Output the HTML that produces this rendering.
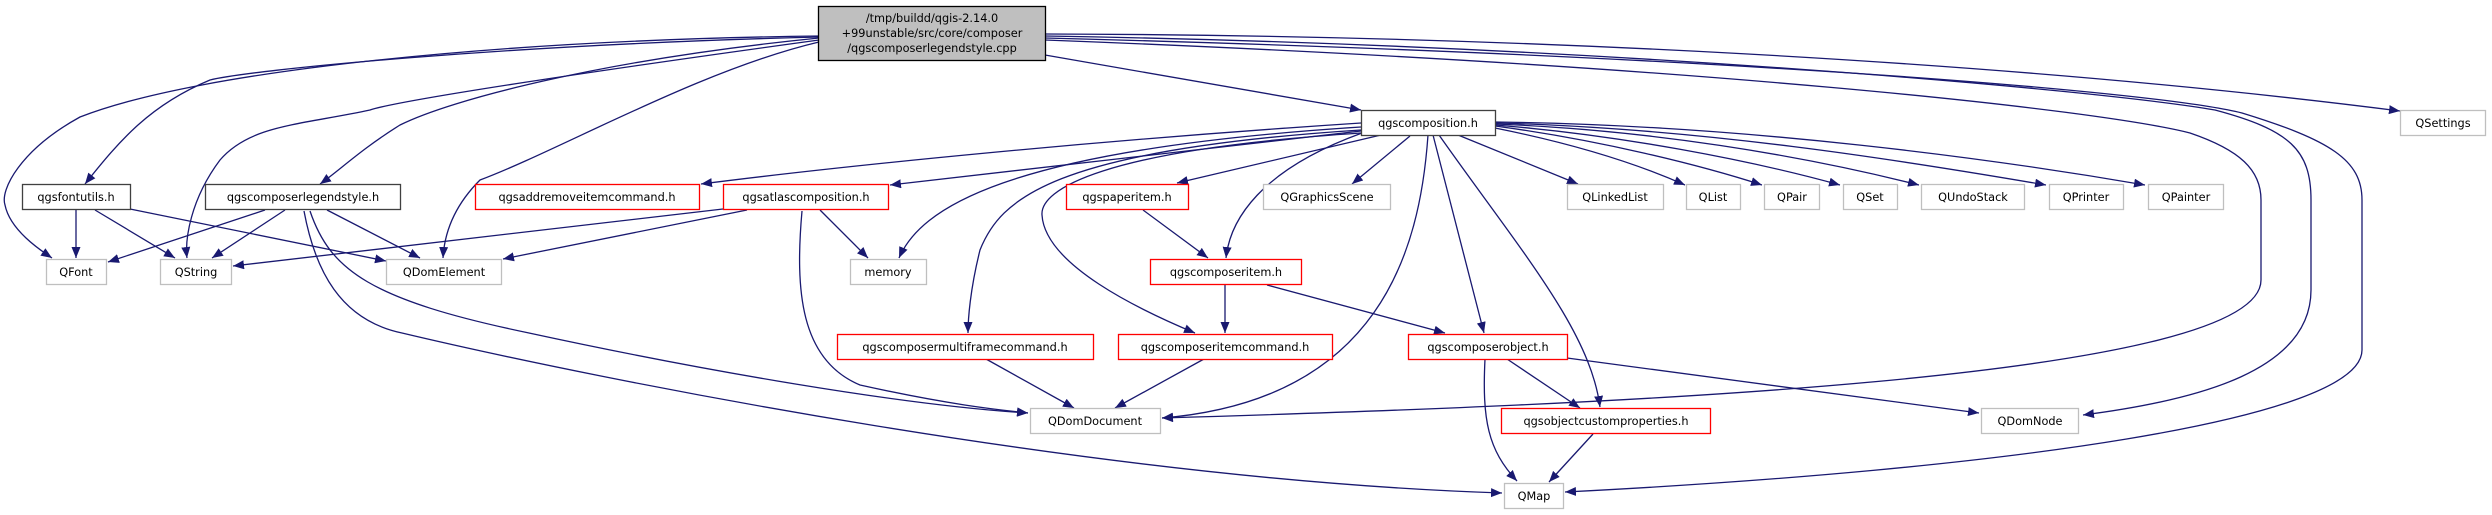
<!DOCTYPE html>
<html><head><meta charset="utf-8"><style>
html,body{margin:0;padding:0;background:#fff;}
svg{display:block;}
text{font-family:"DejaVu Sans","Liberation Sans",sans-serif;font-size:11.3px;fill:#000;}
.e{fill:none;stroke:#191970;stroke-width:1.3;marker-end:url(#a);}
.k{fill:#fff;stroke:#404040;stroke-width:1.3;}
.r{fill:#fff;stroke:#ff0000;stroke-width:1.3;}
.g{fill:#fff;stroke:#bfbfbf;stroke-width:1.3;}
</style></head><body>
<svg width="2492" height="515" viewBox="0 0 2492 515" xmlns="http://www.w3.org/2000/svg">
<defs><marker id="a" markerUnits="userSpaceOnUse" markerWidth="12" markerHeight="10" refX="11" refY="4.5" orient="auto"><path d="M0,0 L11,4.5 L0,9 z" fill="#191970"/></marker></defs>
<g>
<path class="e" d="M819,36 C500,40 200,70 80,117 C20,150 0,190 5,205 C10,230 40,250 52,258"/>
<path class="e" d="M819,37 C500,45 250,70 210,80 C150,105 120,140 85,184"/>
<path class="e" d="M819,40 C600,70 400,100 370,110 C300,125 250,125 220,160 C190,200 185,240 187,258"/>
<path class="e" d="M819,38 C600,60 450,100 400,125 C360,150 340,170 320,184"/>
<path class="e" d="M819,42 C700,70 560,150 480,180 C450,210 444,240 443,258"/>
<path class="e" d="M1045,55 L1361,110"/>
<path class="e" d="M1045,34 C1500,35 2000,60 2400,111"/>
<path class="e" d="M1045,36 C1600,45 2100,90 2215,110 C2290,130 2311,150 2311,200 L2311,290 C2311,370 2200,400 2083,415"/>
<path class="e" d="M1045,38 C1700,55 2150,90 2242,113 C2330,140 2362,160 2362,200 L2362,350 C2362,420 2000,470 1565,492"/>
<path class="e" d="M1045,40 C1700,65 2100,110 2190,133 C2240,150 2261,170 2261,200 L2261,280 C2261,380 1600,405 1162,418"/>
<path class="e" d="M76,210 L76,258"/>
<path class="e" d="M95,210 L175,258"/>
<path class="e" d="M130,209 L386,261"/>
<path class="e" d="M265,210 L108,262"/>
<path class="e" d="M285,210 L212,258"/>
<path class="e" d="M327,210 L420,258"/>
<path class="e" d="M310,211 C330,270 370,300 529,333 C700,370 900,405 1028,413"/>
<path class="e" d="M304,211 C315,270 340,320 402,333 C600,380 1100,480 1502,493"/>
<path class="e" d="M723,209 L233,266"/>
<path class="e" d="M747,210 L503,259"/>
<path class="e" d="M820,210 L868,258"/>
<path class="e" d="M802,211 C795,290 800,360 860,385 C950,405 1000,410 1028,413"/>
<path class="e" d="M1361,123 C1100,140 850,165 701,184"/>
<path class="e" d="M1361,131 L890,185"/>
<path class="e" d="M1361,127 C1000,150 920,210 899,258"/>
<path class="e" d="M1361,130 C1050,150 1000,200 980,250 C970,290 968,320 968,333"/>
<path class="e" d="M1361,133 C1100,150 1040,190 1042,215 C1045,265 1140,310 1195,333"/>
<path class="e" d="M1381,135 L1177,183"/>
<path class="e" d="M1362,133 C1260,170 1230,220 1226,258"/>
<path class="e" d="M1410,136 L1352,184"/>
<path class="e" d="M1428,135 C1420,250 1380,400 1162,418"/>
<path class="e" d="M1433,135 L1484,333"/>
<path class="e" d="M1439,135 C1520,250 1590,330 1600,407"/>
<path class="e" d="M1458,135 L1578,184"/>
<path class="e" d="M1495,128 C1580,145 1640,165 1685,185"/>
<path class="e" d="M1495,126 C1600,140 1700,165 1762,185"/>
<path class="e" d="M1495,125 C1620,135 1750,160 1840,185"/>
<path class="e" d="M1495,124 C1650,130 1800,155 1919,185"/>
<path class="e" d="M1495,123 C1700,128 1900,160 2046,185"/>
<path class="e" d="M1495,122 C1750,125 2000,160 2145,185"/>
<path class="e" d="M1567,358 L1979,413"/>
<path class="e" d="M1225,285 L1225,333"/>
<path class="e" d="M1267,285 L1445,333"/>
<path class="e" d="M1143,210 L1208,258"/>
<path class="e" d="M986,359 L1074,408"/>
<path class="e" d="M1204,359 L1115,408"/>
<path class="e" d="M1485,359 C1482,420 1488,450 1517,481"/>
<path class="e" d="M1507,359 L1580,408"/>
<path class="e" d="M1593,434 L1549,482"/>
</g>
<rect x="818.5" y="6.5" width="227" height="54" fill="#bfbfbf" stroke="#000" stroke-width="1.3"/>
<text x="932" y="22" text-anchor="middle">/tmp/buildd/qgis-2.14.0</text>
<text x="932" y="37" text-anchor="middle">+99unstable/src/core/composer</text>
<text x="932" y="52" text-anchor="middle">/qgscomposerlegendstyle.cpp</text>

<rect class="k" x="22.5" y="184.5" width="108" height="25"/><text x="76" y="201" text-anchor="middle">qgsfontutils.h</text>
<rect class="k" x="205.5" y="184.5" width="195" height="25"/><text x="303" y="201" text-anchor="middle">qgscomposerlegendstyle.h</text>
<rect class="r" x="475.5" y="184.5" width="224" height="25"/><text x="587" y="201" text-anchor="middle">qgsaddremoveitemcommand.h</text>
<rect class="r" x="723.5" y="184.5" width="165" height="25"/><text x="806" y="201" text-anchor="middle">qgsatlascomposition.h</text>
<rect class="g" x="46.5" y="259.5" width="60" height="25"/><text x="76" y="276" text-anchor="middle">QFont</text>
<rect class="g" x="160.5" y="259.5" width="71" height="25"/><text x="196" y="276" text-anchor="middle">QString</text>
<rect class="g" x="386.5" y="259.5" width="115" height="25"/><text x="444" y="276" text-anchor="middle">QDomElement</text>
<rect class="k" x="1361.5" y="110.5" width="134" height="25"/><text x="1428" y="127" text-anchor="middle">qgscomposition.h</text>
<rect class="g" x="850.5" y="259.5" width="76" height="25"/><text x="888" y="276" text-anchor="middle">memory</text>
<rect class="r" x="1066.5" y="184.5" width="122" height="25"/><text x="1127" y="201" text-anchor="middle">qgspaperitem.h</text>
<rect class="g" x="1263.5" y="184.5" width="127" height="25"/><text x="1327" y="201" text-anchor="middle">QGraphicsScene</text>
<rect class="g" x="1567.5" y="184.5" width="96" height="25"/><text x="1615" y="201" text-anchor="middle">QLinkedList</text>
<rect class="g" x="1686.5" y="184.5" width="54" height="25"/><text x="1713" y="201" text-anchor="middle">QList</text>
<rect class="g" x="1764.5" y="184.5" width="55" height="25"/><text x="1792" y="201" text-anchor="middle">QPair</text>
<rect class="g" x="1843.5" y="184.5" width="54" height="25"/><text x="1870" y="201" text-anchor="middle">QSet</text>
<rect class="g" x="1921.5" y="184.5" width="103" height="25"/><text x="1973" y="201" text-anchor="middle">QUndoStack</text>
<rect class="g" x="2049.5" y="184.5" width="74" height="25"/><text x="2086" y="201" text-anchor="middle">QPrinter</text>
<rect class="g" x="2148.5" y="184.5" width="75" height="25"/><text x="2186" y="201" text-anchor="middle">QPainter</text>
<rect class="g" x="2400.5" y="110.5" width="85" height="25"/><text x="2443" y="127" text-anchor="middle">QSettings</text>
<rect class="r" x="1150.5" y="259.5" width="151" height="25"/><text x="1226" y="276" text-anchor="middle">qgscomposeritem.h</text>
<rect class="r" x="837.5" y="334.5" width="256" height="25"/><text x="965" y="351" text-anchor="middle">qgscomposermultiframecommand.h</text>
<rect class="r" x="1118.5" y="334.5" width="214" height="25"/><text x="1225" y="351" text-anchor="middle">qgscomposeritemcommand.h</text>
<rect class="r" x="1408.5" y="334.5" width="159" height="25"/><text x="1488" y="351" text-anchor="middle">qgscomposerobject.h</text>
<rect class="g" x="1030.5" y="408.5" width="130" height="25"/><text x="1095" y="425" text-anchor="middle">QDomDocument</text>
<rect class="r" x="1501.5" y="408.5" width="209" height="25"/><text x="1606" y="425" text-anchor="middle">qgsobjectcustomproperties.h</text>
<rect class="g" x="1981.5" y="408.5" width="97" height="25"/><text x="2030" y="425" text-anchor="middle">QDomNode</text>
<rect class="g" x="1504.5" y="483.5" width="59" height="25"/><text x="1534" y="500" text-anchor="middle">QMap</text>
</svg>
</body></html>
